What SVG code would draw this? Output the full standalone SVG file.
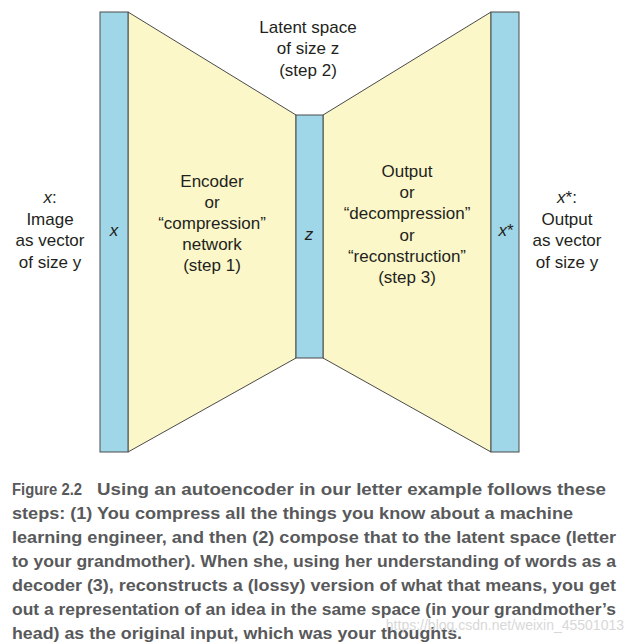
<svg xmlns="http://www.w3.org/2000/svg" width="634" height="644" viewBox="0 0 634 644">
<style>
.bar{fill:#9fd6e8;stroke:#4a4a4a;stroke-width:1}
.trap{fill:#fbf7c9;stroke:#4a4a4a;stroke-width:1}
.t{font-family:"Liberation Sans",Arial,sans-serif;font-size:17px;fill:#231f20;text-anchor:middle}
.c{font-family:"Liberation Sans",Arial,sans-serif;font-size:16px;font-weight:bold;fill:#58595b}
</style>
<rect width="634" height="644" fill="#fff"/>
<g id="encoder"><polygon class="trap" points="128,12 296,115 296,358 128,452"/>
<text class="t" x="212" y="187">Encoder</text><text class="t" x="212" y="208">or</text><text class="t" x="212" y="229">“compression”</text><text class="t" x="212" y="250">network</text><text class="t" x="212" y="271">(step 1)</text></g>
<g id="decoder"><polygon class="trap" points="323,115 491,12 491,452 323,358"/>
<text class="t" x="407" y="177">Output</text><text class="t" x="407" y="198">or</text><text class="t" x="407" y="219">“decompression”</text><text class="t" x="407" y="241">or</text><text class="t" x="407" y="262">“reconstruction”</text><text class="t" x="407" y="283">(step 3)</text></g>
<g id="x"><rect class="bar" x="100" y="12" width="28" height="440"/><text class="t" x="114" y="236" font-style="italic">x</text></g>
<g id="z"><rect class="bar" x="296" y="115" width="27" height="243"/><text class="t" x="309" y="240" font-style="italic">z</text></g>
<g id="xstar"><rect class="bar" x="491" y="12" width="28" height="440"/><text class="t" x="506" y="236"><tspan font-style="italic">x</tspan>*</text></g>
<g id="labels">
<text class="t" x="50" y="203"><tspan font-style="italic">x</tspan>:</text><text class="t" x="50" y="225">Image</text><text class="t" x="50" y="246">as vector</text><text class="t" x="50" y="268">of size y</text>
<text class="t" x="308" y="33">Latent space</text><text class="t" x="308" y="54">of size z</text><text class="t" x="308" y="76">(step 2)</text>
<text class="t" x="567" y="203"><tspan font-style="italic">x</tspan>*:</text><text class="t" x="567" y="225">Output</text><text class="t" x="567" y="246">as vector</text><text class="t" x="567" y="268">of size y</text>
</g>
<g id="connectors"/>
<g id="caption">
<text class="c" x="12" y="495" textLength="70" lengthAdjust="spacingAndGlyphs">Figure 2.2</text>
<text class="c" x="97" y="495" textLength="509" lengthAdjust="spacingAndGlyphs">Using an autoencoder in our letter example follows these</text>
<text class="c" x="12" y="519" textLength="561" lengthAdjust="spacingAndGlyphs">steps: (1) You compress all the things you know about a machine</text>
<text class="c" x="12" y="543" textLength="604" lengthAdjust="spacingAndGlyphs">learning engineer, and then (2) compose that to the latent space (letter</text>
<text class="c" x="12" y="567" textLength="604" lengthAdjust="spacingAndGlyphs">to your grandmother). When she, using her understanding of words as a</text>
<text class="c" x="12" y="591" textLength="604" lengthAdjust="spacingAndGlyphs">decoder (3), reconstructs a (lossy) version of what that means, you get</text>
<text class="c" x="12" y="615" textLength="604" lengthAdjust="spacingAndGlyphs">out a representation of an idea in the same space (in your grandmother’s</text>
<text class="c" x="12" y="639" textLength="450" lengthAdjust="spacingAndGlyphs">head) as the original input, which was your thoughts.</text>
<text x="624" y="630" text-anchor="end" font-family="Liberation Sans,Arial,sans-serif" font-size="14" fill="#d8d8d8">https://blog.csdn.net/weixin_45501013</text>
</g>
</svg>
